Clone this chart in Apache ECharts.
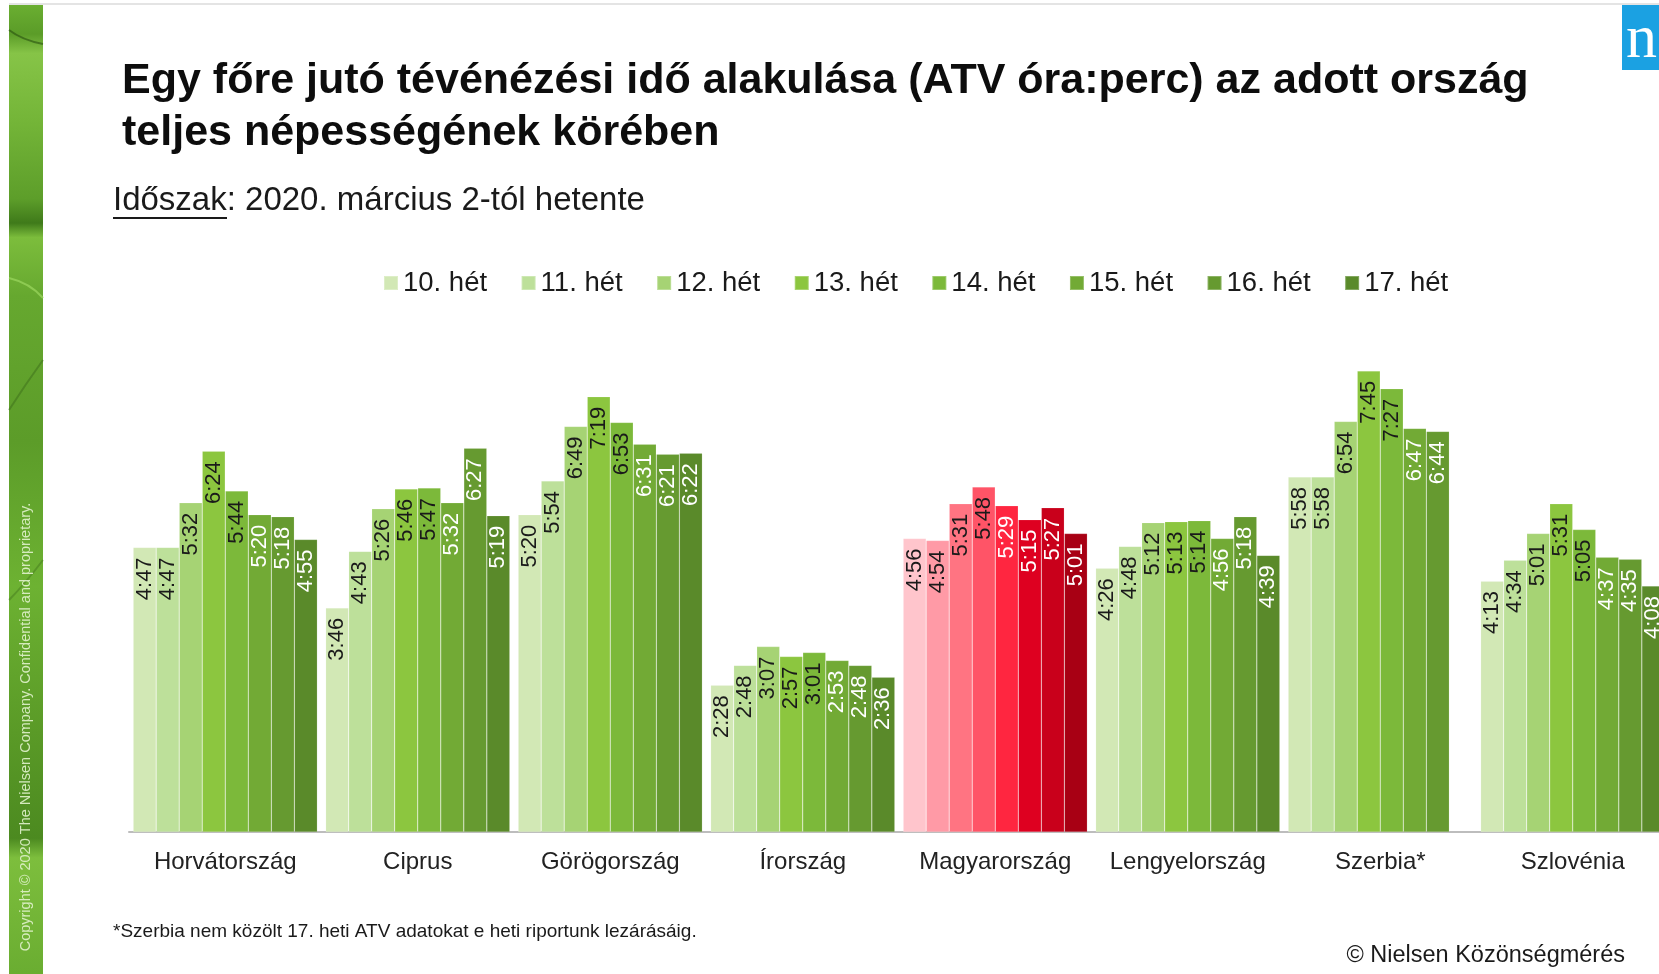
<!DOCTYPE html>
<html>
<head>
<meta charset="utf-8">
<script src="https://cdn.jsdelivr.net/npm/echarts@6/dist/echarts.min.js"></script>
<style>
  html, body { margin: 0; padding: 0; background: #fff; overflow: hidden; }
  /* a kep jobb szelen a Szlovenia csoport levagva, ezert a vaszon 10px-el szelesebb */
  #chart { width: 1669px; height: 974px; }
</style>
</head>
<body>
<div id="chart"></div>
<script>
// orszagok es heti ATV (ora:perc)
var categories = ['Horvátország', 'Ciprus', 'Görögország', 'Írország', 'Magyarország', 'Lengyelország', 'Szerbia*', 'Szlovénia'];
var weeks = ['10. hét', '11. hét', '12. hét', '13. hét', '14. hét', '15. hét', '16. hét', '17. hét'];

var het10 = ['4:47', '3:46', '5:20', '2:28', '4:56', '4:26', '5:58', '4:13'];
var het11 = ['4:47', '4:43', '5:54', '2:48', '4:54', '4:48', '5:58', '4:34'];
var het12 = ['5:32', '5:26', '6:49', '3:07', '5:31', '5:12', '6:54', '5:01'];
var het13 = ['6:24', '5:46', '7:19', '2:57', '5:48', '5:13', '7:45', '5:31'];
var het14 = ['5:44', '5:47', '6:53', '3:01', '5:29', '5:14', '7:27', '5:05'];
var het15 = ['5:20', '5:32', '6:31', '2:53', '5:15', '4:56', '6:47', '4:37'];
var het16 = ['5:18', '6:27', '6:21', '2:48', '5:27', '5:18', '6:44', '4:35'];
var het17 = ['4:55', '5:19', '6:22', '2:36', '5:01', '4:39', null, '4:08'];

var weekData = [het10, het11, het12, het13, het14, het15, het16, het17];

var greens = ['#d2e8b5', '#bde09a', '#a6d374', '#8cc63f', '#7cb93a', '#72aa35', '#669a30', '#5a8a2a'];
var reds = ['#ffc5cc', '#ff9aa6', '#ff7482', '#ff5467', '#ff2640', '#de0020', '#c9001b', '#a80014'];

var titleText = 'Egy főre jutó tévénézési idő alakulása (ATV óra:perc) az adott ország\nteljes népességének körében';
var subText = 'Időszak: 2020. március 2-tól hetente';
var footText = '*Szerbia nem közölt 17. heti ATV adatokat e heti riportunk lezárásáig.';
var sourceText = '© Nielsen Közönségmérés';
var copyText = 'Copyright © 2020 The Nielsen Company. Confidential and proprietary.';

var HU = categories.indexOf('Magyarország');

function toMin(s) {
    if (s == null) return null;
    var p = s.split(':');
    return +p[0] * 60 + +p[1];
}

function fmt(v) {
    var m = v % 60;
    return Math.floor(v / 60) + ':' + (m < 10 ? '0' + m : m);
}

var series = weekData.map(function (arr, w) {
    return {
        name: weeks[w],
        type: 'bar',
        barGap: '0%',
        barCategoryGap: '4.3%',
        itemStyle: { color: greens[w], borderColor: 'rgba(255,255,255,0.25)', borderWidth: 0.6 },
        label: {
            show: true,
            position: 'insideTop',
            distance: 10,
            rotate: 90,
            align: 'right',
            verticalAlign: 'middle',
            fontSize: 22,
            color: w >= 5 ? '#ffffff' : '#1a1a1a',
            formatter: function (p) { return fmt(p.value); }
        },
        data: arr.map(function (s, c) {
            var v = toMin(s);
            if (v == null) return '-';
            var item = { value: v };
            if (c === HU) {
                item.itemStyle = { color: reds[w] };
                item.label = { color: w >= 4 ? '#ffffff' : '#1a1a1a' };
            }
            return item;
        })
    };
});

var chart = echarts.init(document.getElementById('chart'));

chart.setOption({
    animation: false,
    backgroundColor: '#ffffff',
    textStyle: { fontFamily: 'Liberation Sans, Arial, sans-serif' },
    title: [
        {
            text: titleText, left: 122, top: 55, padding: 0,
            textStyle: { fontSize: 43, fontWeight: 'bold', lineHeight: 52, color: '#0d0d0d' }
        },
        {
            text: subText, left: 113, top: 181, padding: 0,
            textStyle: { fontSize: 33, fontWeight: 'normal', lineHeight: 40, color: '#1a1a1a' }
        },
        {
            text: footText, left: 113, top: 921, padding: 0,
            textStyle: { fontSize: 19, fontWeight: 'normal', lineHeight: 22, color: '#1a1a1a' }
        },
        {
            text: sourceText, right: 44, top: 942, padding: 0,
            textStyle: { fontSize: 23.5, fontWeight: 'normal', lineHeight: 28, color: '#1a1a1a' }
        }
    ],
    legend: {
        data: weeks,
        left: 383,
        top: 269,
        padding: 0,
        icon: 'rect',
        itemWidth: 14,
        itemHeight: 14,
        itemGap: 33.5,
        textStyle: { fontSize: 27.5, lineHeight: 28, color: '#1a1a1a' }
    },
    grid: { left: 129, right: 0, top: 356, bottom: 142, containLabel: false },
    xAxis: {
        type: 'category',
        data: categories,
        axisLine: { lineStyle: { color: '#bdbdbd', width: 2 } },
        axisTick: { show: false },
        axisLabel: { interval: 0, hideOverlap: false, fontSize: 24, color: '#222', margin: 18 }
    },
    yAxis: {
        type: 'value',
        min: 0,
        max: 480,
        show: false,
        splitLine: { show: false }
    },
    series: series,
    graphic: [
        { type: 'line', shape: { x1: 9, y1: 4, x2: 1669, y2: 4 }, style: { stroke: '#e4e4e4', lineWidth: 2 } },
        {
            type: 'rect', shape: { x: 9, y: 5, width: 34, height: 969 },
            style: {
                fill: new echarts.graphic.LinearGradient(0, 0, 0, 1, [
                    { offset: 0, color: '#6aae31' },
                    { offset: 0.03, color: '#5b9c28' },
                    { offset: 0.05, color: '#86c447' },
                    { offset: 0.12, color: '#74b538' },
                    { offset: 0.2, color: '#5d9e2a' },
                    { offset: 0.225, color: '#3f7a1a' },
                    { offset: 0.24, color: '#7cbd3c' },
                    { offset: 0.3, color: '#66a82f' },
                    { offset: 0.45, color: '#5c9c29' },
                    { offset: 0.6, color: '#6db232' },
                    { offset: 0.75, color: '#5a9a27' },
                    { offset: 0.86, color: '#4c8a20' },
                    { offset: 0.88, color: '#7dbe3d' },
                    { offset: 1, color: '#6aad31' }
                ])
            }
        },
        { type: 'bezierCurve', shape: { x1: 9, y1: 30, x2: 43, y2: 44, cpx1: 22, cpy1: 40 }, style: { stroke: 'rgba(40,80,15,0.6)', lineWidth: 2, fill: null } },
        { type: 'bezierCurve', shape: { x1: 9, y1: 278, x2: 43, y2: 298, cpx1: 30, cpy1: 283 }, style: { stroke: 'rgba(150,210,90,0.8)', lineWidth: 2, fill: null } },
        { type: 'bezierCurve', shape: { x1: 9, y1: 410, x2: 43, y2: 360, cpx1: 25, cpy1: 385 }, style: { stroke: 'rgba(60,110,25,0.5)', lineWidth: 2, fill: null } },
        { type: 'bezierCurve', shape: { x1: 9, y1: 600, x2: 43, y2: 560, cpx1: 24, cpy1: 585 }, style: { stroke: 'rgba(60,110,25,0.4)', lineWidth: 2, fill: null } },
        {
            type: 'text', x: 26, y: 727, rotation: Math.PI / 2,
            style: {
                text: copyText, fill: 'rgba(225,242,205,0.9)', fontSize: 14.5,
                fontFamily: 'Liberation Sans, Arial, sans-serif', align: 'center', verticalAlign: 'middle'
            }
        },
        { type: 'rect', shape: { x: 1622, y: 5, width: 47, height: 65 }, style: { fill: '#1ba1e2' } },
        {
            type: 'text', x: 1626, y: 41,
            style: {
                text: 'n', fill: '#ffffff', fontSize: 62,
                fontFamily: 'Liberation Serif, DejaVu Serif, serif', align: 'left', verticalAlign: 'middle'
            }
        },
        { type: 'line', shape: { x1: 113, y1: 218, x2: 227, y2: 218 }, style: { stroke: '#1a1a1a', lineWidth: 2 } }
    ]
});
</script>
</body>
</html>
